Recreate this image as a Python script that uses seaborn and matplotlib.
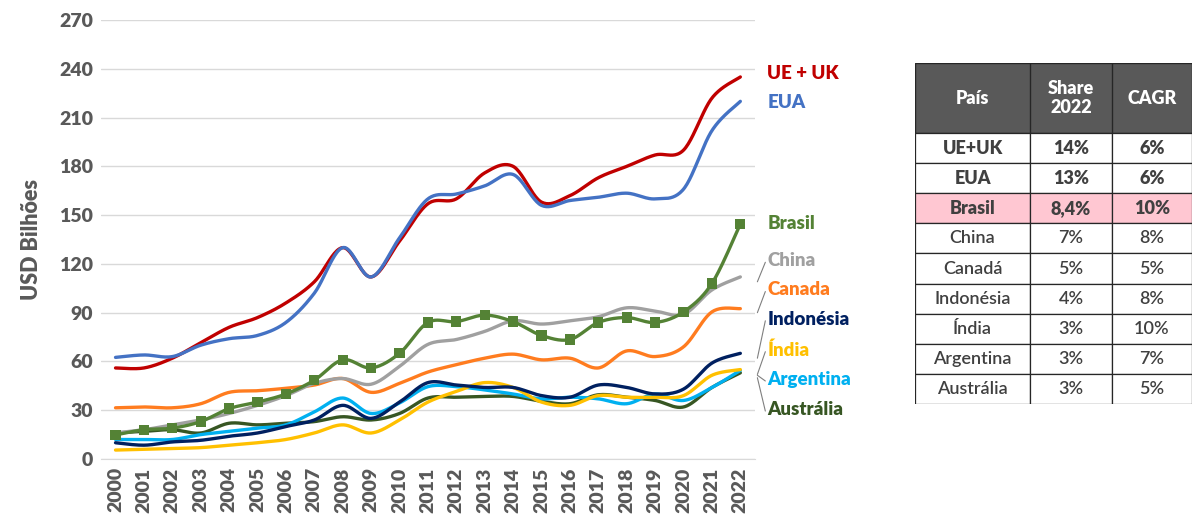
import numpy as np
import pandas as pd
import matplotlib
matplotlib.use("Agg")
import matplotlib.pyplot as plt
import seaborn as sns

# valores (USD bilhoes)
anos = list(range(2000, 2023))
ue_uk = [56, 56, 62, 71.5, 81, 87, 96, 109, 130, 112, 134, 157, 160, 176, 180, 158, 162, 173, 180, 187, 190, 222, 235]
eua = [62.5, 64, 63, 70, 74, 76, 84, 102, 130, 112, 136, 160, 163, 168, 175, 156, 159, 161, 163.5, 160, 166, 202, 220]
brasil = [14.8, 18, 19, 23, 31, 35, 40, 48.5, 61, 56, 65, 84, 84.5, 88.5, 84.5, 76, 73.5, 84, 87, 84, 90.5, 108, 144.5]
china = [16, 18, 21, 24, 28, 33, 39, 46.5, 49.5, 46, 57, 70.5, 73.5, 78.5, 85, 83, 85, 87.5, 93, 91, 89, 104, 112]
canada = [31.5, 32, 31.5, 34, 41, 42, 43.5, 45.5, 49.5, 41, 46.5, 53.5, 58, 62, 64.5, 61, 62, 56, 66.5, 63, 69, 90.5, 92.5]
indonesia = [10, 8.5, 10.5, 11.5, 14, 16, 20, 24, 33, 25, 35, 47, 45.5, 44, 44, 39, 38, 45.5, 44, 40, 43, 59, 65]
india = [5.5, 6, 6.5, 7, 8.5, 10, 12, 16, 21, 16, 24, 35, 41.5, 47, 44, 35, 33, 39, 38, 38, 39, 51.5, 55]
argentina = [12, 12, 12, 15, 17, 19, 21, 29, 37.5, 28, 34.5, 44.5, 44.5, 42.5, 40, 37, 38, 37, 34, 40, 36, 44, 54.5]
australia = [16, 17, 18, 16, 22, 21, 22, 23, 26, 24, 28, 37.5, 38, 38.5, 38.5, 35.5, 34, 39.5, 38, 36, 32, 44, 53]

paises = ["UE + UK", "EUA", "Brasil", "China", "Canada", "Indonésia", "Índia", "Argentina", "Austrália"]
cores = ["#C00000", "#4472C4", "#548235", "#A0A0A0", "#FF7C1F", "#002060", "#FFC000", "#00B0F0", "#375623"]
series = [ue_uk, eua, brasil, china, canada, indonesia, india, argentina, australia]

# tabela
tab_pais = ["UE+UK", "EUA", "Brasil", "China", "Canadá", "Indonésia", "Índia", "Argentina", "Austrália"]
tab_share = ["14%", "13%", "8,4%", "7%", "5%", "4%", "3%", "3%", "3%"]
tab_cagr = ["6%", "6%", "10%", "8%", "5%", "8%", "10%", "7%", "5%"]


# suavizacao tipo excel (catmull-rom)
def suavizar(x, y, n=24):
    x = np.asarray(x, float)
    y = np.asarray(y, float)
    xs, ys = [], []
    for i in range(len(x) - 1):
        p0 = np.array([x[max(i - 1, 0)], y[max(i - 1, 0)]])
        p1 = np.array([x[i], y[i]])
        p2 = np.array([x[i + 1], y[i + 1]])
        p3 = np.array([x[min(i + 2, len(x) - 1)], y[min(i + 2, len(x) - 1)]])
        for t in np.linspace(0, 1, n, endpoint=False):
            pt = 0.5 * ((2 * p1) + (-p0 + p2) * t + (2 * p0 - 5 * p1 + 4 * p2 - p3) * t ** 2
                        + (-p0 + 3 * p1 - 3 * p2 + p3) * t ** 3)
            xs.append(pt[0])
            ys.append(pt[1])
    xs.append(x[-1])
    ys.append(y[-1])
    return xs, ys


linhas = []
for nome, vals in zip(paises, series):
    xs, ys = suavizar(anos, vals)
    linhas.append(pd.DataFrame({"ano": xs, "valor": ys, "pais": nome}))
df = pd.concat(linhas)

sns.set_style("white")
plt.rcParams["font.family"] = ["Lato", "DejaVu Sans"]

fig = plt.figure(figsize=(11.92, 5.14), dpi=100)
ax = fig.add_axes([0.085, 0.107, 0.548, 0.854])

ordem_z = ["Austrália", "Argentina", "Índia", "Indonésia", "Canada", "China", "Brasil", "UE + UK", "EUA"]
pal = dict(zip(paises, cores))
for nome in ordem_z:
    sns.lineplot(data=df[df["pais"] == nome], x="ano", y="valor", color=pal[nome],
                 lw=2.4, ax=ax, sort=False, estimator=None)
sns.scatterplot(x=anos, y=brasil, marker="s", s=55, color="#548235", edgecolor="none", ax=ax, zorder=5)

ax.set_xlim(1999.5, 2022.5)
ax.set_ylim(0, 270)
ax.set_yticks(range(0, 271, 30))
ax.set_xticks(anos)
ax.set_xticklabels([str(a) for a in anos], rotation=90)
ax.grid(axis="y", color="#D9D9D9", lw=1)
ax.set_axisbelow(True)
for s in ["top", "right", "left"]:
    ax.spines[s].set_visible(False)
ax.spines["bottom"].set_color("#D9D9D9")
ax.tick_params(axis="both", length=0, labelsize=14, labelcolor="#595959", pad=6)
for lab in ax.get_xticklabels() + ax.get_yticklabels():
    lab.set_fontweight("heavy")
ax.set_xlabel("")
ax.set_ylabel("USD Bilhões", fontsize=15.5, fontweight="heavy", color="#595959", labelpad=12)

# rotulos das series
rot_y = [237, 219, 145, 122, 104, 85.5, 67, 49, 30.5]
for nome, cor, yy in zip(paises, cores, rot_y):
    ax.text(2022.95, yy, nome, color=cor, fontsize=13.5, fontweight="heavy", va="center", ha="left",
            clip_on=False)
# linhas guia
guias = [("China", 112, 122), ("Canada", 93, 104), ("Indonésia", 65, 86), ("Índia", 55, 67),
         ("Argentina", 54.5, 49), ("Austrália", 53, 30.5)]
for nome, y0, y1 in guias:
    ax.plot([2022.6, 2022.88], [y0 - 3, y1 - 1], color="#7F7F7F", lw=0.8, clip_on=False)

# tabela
tx = fig.add_axes([915 / 1192, (514 - 404) / 514, 277 / 1192, 341 / 514])
tx.set_xlim(0, 277)
tx.set_ylim(341, 0)
tx.axis("off")
col_x = [0, 115, 197, 277]
head_h = 70
row_h = (341 - head_h) / len(tab_pais)
tx.add_patch(plt.Rectangle((0, 0), 277, head_h, facecolor="#595959", edgecolor="#262626", lw=1))
for i, h in enumerate(["País", "Share\n2022", "CAGR"]):
    tx.text((col_x[i] + col_x[i + 1]) / 2, head_h / 2, h, color="white", fontsize=13,
            fontweight="heavy", ha="center", va="center", linespacing=1.1)
for i in range(len(tab_pais)):
    y0 = head_h + i * row_h
    fc = "#FFC7D2" if tab_pais[i] == "Brasil" else "white"
    peso = "heavy" if i < 3 else "semibold"
    for j, txt in enumerate([tab_pais[i], tab_share[i], tab_cagr[i]]):
        tx.add_patch(plt.Rectangle((col_x[j], y0), col_x[j + 1] - col_x[j], row_h,
                                   facecolor=fc, edgecolor="#262626", lw=0.9))
        tx.text((col_x[j] + col_x[j + 1]) / 2, y0 + row_h / 2, txt, color="#404040",
                fontsize=13, fontweight=peso, ha="center", va="center")
for j in range(1, 3):
    tx.plot([col_x[j], col_x[j]], [0, head_h], color="#262626", lw=1)

fig.savefig("out.png", dpi=100)
